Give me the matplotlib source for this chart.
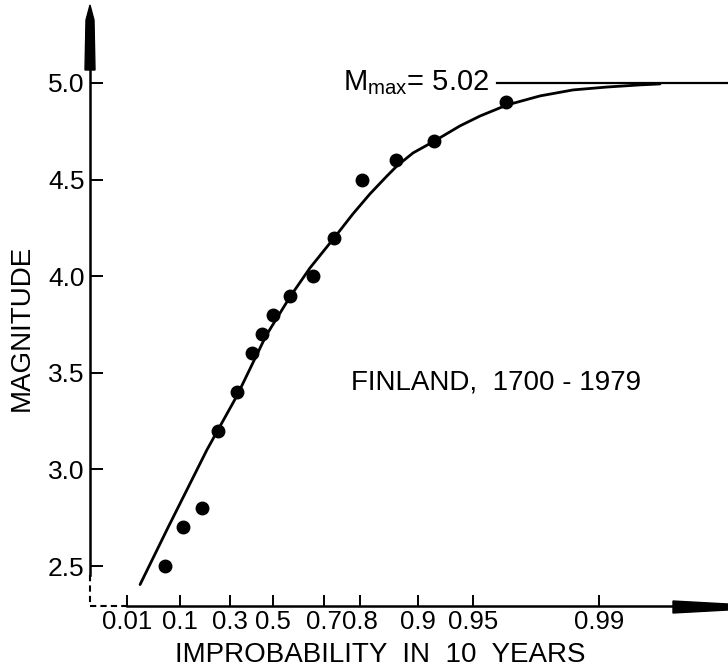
import numpy as np
import matplotlib
matplotlib.use("Agg")
import matplotlib.pyplot as plt
from matplotlib.lines import Line2D
from matplotlib.patches import Polygon

plt.rcParams['font.family'] = ['Liberation Sans', 'DejaVu Sans']

# observed earthquakes: improbability in 10 years vs magnitude
obs_p = [0.060, 0.108, 0.176, 0.244, 0.332, 0.403, 0.450, 0.501, 0.575,
         0.663, 0.731, 0.804, 0.869, 0.918, 0.967]
obs_m = [2.5, 2.7, 2.8, 3.2, 3.4, 3.6, 3.7, 3.8, 3.9,
         4.0, 4.2, 4.5, 4.6, 4.7, 4.9]

# fitted curve
fit_p = [0.0205, 0.0669, 0.196, 0.3318, 0.4690, 0.5744, 0.6521, 0.7342,
         0.7830, 0.8218, 0.8545, 0.8710, 0.8939, 0.9170, 0.9409, 0.9541,
         0.9674, 0.97867, 0.98605, 0.99101, 0.99413, 0.99547]
fit_m = [2.404, 2.699, 3.102, 3.382, 3.692, 3.893, 4.043, 4.204,
         4.323, 4.426, 4.519, 4.571, 4.638, 4.695, 4.778, 4.829,
         4.886, 4.933, 4.964, 4.979, 4.990, 4.995]

mmax = 5.02
mmax_line = 5.0
x_ticks = [0.01, 0.1, 0.3, 0.5, 0.7, 0.8, 0.9, 0.95, 0.99]
x_labels = ["0.01", "0.1", "0.3", "0.5", "0.7", "0.8", "0.9", "0.95", "0.99"]
y_ticks = [2.5, 3.0, 3.5, 4.0, 4.5, 5.0]


# gumbel probability scale
def fwd(p):
    p = np.clip(np.asarray(p, dtype=float), 1e-9, 1 - 1e-12)
    return -np.log(-np.log(p))


def inv(y):
    return np.exp(-np.exp(-np.asarray(y, dtype=float)))


W, H = 728, 671
fig = plt.figure(figsize=(W / 100, H / 100), dpi=100)


def fx(px):
    return px / W


def fy(py):
    return 1 - py / H


ax = fig.add_axes([fx(90), fy(606), fx(728) - fx(90), fy(8) - fy(606)])
ax.set_xscale('function', functions=(fwd, inv))
ax.set_xlim(inv(-2.008), inv(6.278))
ax.set_ylim(2.293, 5.388)

ax.plot(fit_p, fit_m, color='black', lw=2.0, solid_capstyle='round', solid_joinstyle='round')
ax.plot(obs_p, obs_m, 'o', color='black', ms=9)
ax.axhline(mmax_line, xmin=(497 - 90) / 638, xmax=1.0, color='black', lw=1.6)

ax.text((489 - 90) / 638, mmax_line, r"M$_{\mathregular{max}}$= %.2f" % mmax,
        transform=ax.get_yaxis_transform(), ha='right', va='center', fontsize=21)
ax.text((496 - 90) / 638, 3.45, "FINLAND,  1700 - 1979",
        transform=ax.get_yaxis_transform(), ha='center', va='center', fontsize=20)

for s in ax.spines.values():
    s.set_visible(False)

ax.set_xticks(x_ticks)
ax.set_xticklabels(x_labels)
ax.xaxis.set_minor_locator(matplotlib.ticker.NullLocator())
ax.set_yticks(y_ticks)
ax.set_yticklabels(["%.1f" % v for v in y_ticks])
ax.tick_params(axis='x', direction='in', length=8, width=1.4, labelsize=18.5, pad=3)
ax.tick_params(axis='y', direction='in', length=9, width=1.4, labelsize=19, pad=4)

# hand drawn axes with arrows
k = dict(transform=fig.transFigure, color='black')
fig.add_artist(Line2D([fx(90), fx(90)], [fy(70), fy(575)], lw=1.8, **k))
fig.add_artist(Line2D([fx(90), fx(90)], [fy(575), fy(606)], lw=1.5, ls=(0, (3, 2)), **k))
fig.add_artist(Line2D([fx(90), fx(127)], [fy(606), fy(606)], lw=1.5, ls=(0, (3, 2)), **k))
fig.add_artist(Line2D([fx(127), fx(675)], [fy(606), fy(606)], lw=1.8, **k))
fig.add_artist(Polygon([(fx(90), fy(5)), (fx(94), fy(20)), (fx(95), fy(70)),
                        (fx(85), fy(70)), (fx(86), fy(20))],
                       closed=True, transform=fig.transFigure, color='black'))
fig.add_artist(Polygon([(fx(673), fy(601)), (fx(728), fy(604)), (fx(728), fy(610)),
                        (fx(673), fy(613))],
                       closed=True, transform=fig.transFigure, color='black'))

fig.text(fx(380), fy(655), "IMPROBABILITY  IN  10  YEARS", ha='center', va='center', fontsize=20)
fig.text(fx(22), fy(328), "MAGNITUDE", rotation=90, ha='center', va='center', fontsize=20)

fig.savefig("out.png", dpi=100)
